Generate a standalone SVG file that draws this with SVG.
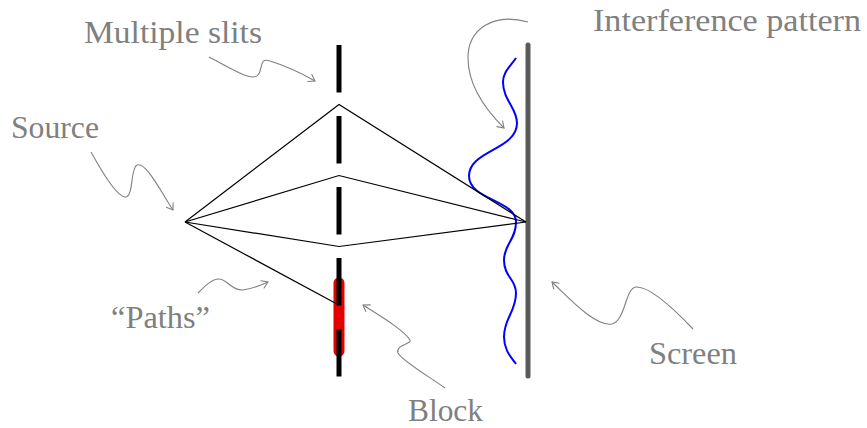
<svg xmlns="http://www.w3.org/2000/svg" width="867" height="428" viewBox="0 0 867 428">
<style>
text{font-family:'Liberation Serif','Times New Roman',serif;font-size:31px;fill:#808080}
.ann{fill:none;stroke:#808080;stroke-width:1.1;marker-end:url(#ah)}
.path{fill:none;stroke:#000;stroke-width:1.2;stroke-linejoin:miter}
</style>
<defs>
<marker id="ah" markerUnits="userSpaceOnUse" markerWidth="14" markerHeight="14" viewBox="-8 -7 10 14" refX="0" refY="0" orient="auto">
<path d="M-6,-4 Q-1.5,-1 0,0 Q-1.5,1 -6,4" fill="none" stroke="#808080" stroke-width="1.1" stroke-linecap="round"/>
</marker>
</defs>
<rect width="867" height="428" fill="#fff"/>
<g id="block">
<line x1="339" y1="283" x2="339" y2="351" stroke="#e50000" stroke-width="11" stroke-linecap="round"/>
</g>
<g id="slits">
<line x1="339" y1="45" x2="339" y2="377" stroke="#000" stroke-width="5" stroke-dasharray="47.5 23.5"/>
</g>
<g id="screen">
<line x1="528" y1="45" x2="528" y2="376" stroke="#5a5a5a" stroke-width="5" stroke-linecap="round"/>
</g>
<g id="pattern">
<path d="M516,58 C510,67 503,72 503,82 C503,100 517,108 517,123 C517,150 469,150 469,176 C469,200 516,200 516,222 C516,240 504,244 504,260 C504,277 516,279 516,293 C516,312 504,318 504,337 C504,350 511,357 516,364" fill="none" stroke="#0000ff" stroke-width="2"/>
</g>
<g id="paths">
<polyline class="path" points="185,222 339,104.5 526,222"/>
<polyline class="path" points="185,222 339,175.5 526,222"/>
<polyline class="path" points="185,222 339,246.5 526,222"/>
<line class="path" x1="185" y1="222" x2="337" y2="304"/>
</g>
<g id="connectors">
<path class="ann" d="M209,57 C232,69 252,82 258,75 C263,69 259,57 270,61 C286,66 303,74 315,81"/>
<path class="ann" d="M91,152 C102,172 116,196 125,197 C134,198 130,168 137,165 C146,162 160,190 173,210"/>
<path class="ann" d="M198,293 C205,286 212,279 219,279 C227,279 232,291 243,290 C252,289 261,285 268,282"/>
<path class="ann" d="M445,388 C430,377 402,361 398,353 C395,345 412,344 410,340 C404,330 380,316 363,305"/>
<path class="ann" d="M693,329 C675,310 650,286 636,287 C625,288 626,320 612,324 C595,327 567,296 552,282"/>
<path class="ann" d="M528,22 C492,12 468,30 468,58 C468,88 488,112 504,128"/>
</g>
<g id="labels">
<text x="84" y="43" textLength="178" lengthAdjust="spacingAndGlyphs">Multiple slits</text>
<text x="11" y="138" textLength="88" lengthAdjust="spacingAndGlyphs">Source</text>
<text x="593" y="31" textLength="268" lengthAdjust="spacingAndGlyphs">Interference pattern</text>
<text x="111" y="328" textLength="99" lengthAdjust="spacingAndGlyphs">“Paths”</text>
<text x="408" y="421" textLength="75" lengthAdjust="spacingAndGlyphs">Block</text>
<text x="649" y="364" textLength="88" lengthAdjust="spacingAndGlyphs">Screen</text>
</g>
</svg>
